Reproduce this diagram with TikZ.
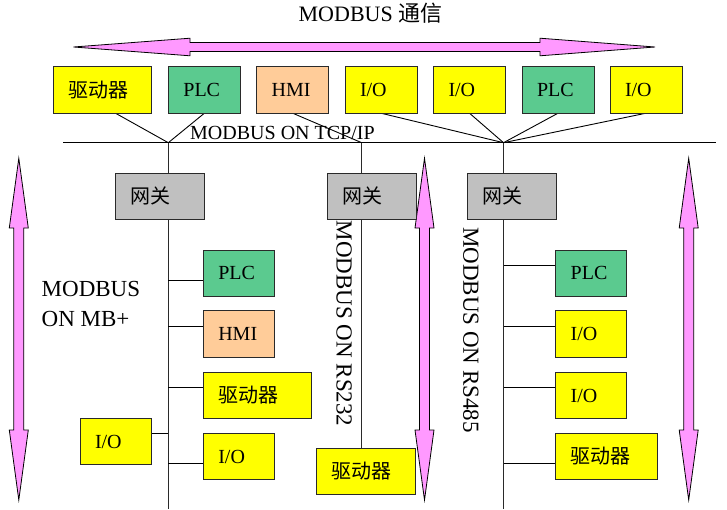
\documentclass[tikz,border=0pt]{standalone}
\usepackage{fontspec}
\setmainfont{Liberation Serif}
\newfontfamily\cjk{Noto Sans CJK SC}
\usetikzlibrary{backgrounds}
\definecolor{yel}{HTML}{FFFF00}
\definecolor{grn}{HTML}{5BCA8F}
\definecolor{org}{HTML}{FFCC99}
\definecolor{gry}{HTML}{C0C0C0}
\definecolor{pnk}{HTML}{FF99FF}
\definecolor{edge}{HTML}{2A2A2A}
\tikzset{
  bx/.style={draw=edge, line width=1pt, minimum height=46.5pt, inner ysep=0pt,
    inner xsep=15pt, outer sep=0pt, align=left, anchor=north west,
    font=\fontsize{20}{24}\selectfont},
  bw/.style={bx, text width=#1},
  link/.style={draw=black, line width=0.9pt},
  trunk/.style={draw=edge, line width=1.1pt},
  arr/.style={fill=pnk, draw=black, line width=0.8pt, line join=miter},
  lbl/.style={inner sep=0pt, font=\fontsize{23}{30}\selectfont},
}
\begin{document}
\begin{tikzpicture}[x=1pt, y=-1pt]
\useasboundingbox (0,0) rectangle (727,509);

% title
\node[inner sep=0pt, anchor=base, font=\fontsize{22}{26}\selectfont] (title) at (370.5,21.5) {MODBUS {\cjk 通信}};

% top arrow
\draw[arr] (73.5,47) -- (190,38.2) -- (190,42.5) -- (540,42.5) -- (540,38.2) -- (655,47)
  -- (540,55.8) -- (540,51.5) -- (190,51.5) -- (190,55.8) -- cycle;

% vertical arrows
\foreach \c in {18.8, 424.5, 688.7} {
  \draw[arr] (\c,158.3) -- (\c+9.5,228) -- (\c+5,228) -- (\c+5,430) -- (\c+9.5,430)
    -- (\c,500) -- (\c-9.5,430) -- (\c-5,430) -- (\c-5,228) -- (\c-9.5,228) -- cycle;
}

% top row
\node[bw=68pt, fill=yel] (t1) at (53.5,66.7) {\cjk 驱动器};
\node[bw=42pt, fill=grn] (t2) at (168.4,66.7) {PLC};
\node[bw=42pt, fill=org] (t3) at (256.7,66.7) {HMI};
\node[bw=42pt, fill=yel] (t4) at (345,66.7) {I/O};
\node[bw=42pt, fill=yel] (t5) at (433.5,66.7) {I/O};
\node[bw=42pt, fill=grn] (t6) at (522,66.7) {PLC};
\node[bw=42pt, fill=yel] (t7) at (610,66.7) {I/O};

% bus label
\node[inner sep=0pt, anchor=base west, font=\fontsize{20}{24}\selectfont] (tcp) at (190,139.3) {MODBUS ON TCP/IP};

% gateways
\node[bw=59pt, fill=gry, minimum height=46pt] (g1) at (115,173.3) {\cjk 网关};
\node[bw=59pt, fill=gry, minimum height=46pt] (g2) at (327,173.3) {\cjk 网关};
\node[bw=59pt, fill=gry, minimum height=46pt] (g3) at (467.3,173.3) {\cjk 网关};

% left column (MB+)
\node[bw=41pt, fill=grn] (plcL) at (203.3,250) {PLC};
\node[bw=41pt, fill=org] (hmiL) at (203.3,310.7) {HMI};
\node[bw=77.7pt, fill=yel] (drvL) at (203.3,372.3) {\cjk 驱动器};
\node[bw=41pt, fill=yel] (ioLa) at (80,418.3) {I/O};
\node[bw=41pt, fill=yel] (ioLb) at (203.3,433.3) {I/O};

% RS232
\node[bw=69.7pt, fill=yel] (d232) at (316,448.3) {\cjk 驱动器};

% right column (RS485)
\node[bw=41pt, fill=grn] (plcR) at (555.7,250) {PLC};
\node[bw=41pt, fill=yel] (ioRa) at (555.7,310.7) {I/O};
\node[bw=41pt, fill=yel] (ioRb) at (555.7,372.3) {I/O};
\node[bw=72pt, fill=yel] (drvR) at (555.7,433.3) {\cjk 驱动器};

% side labels
\node[lbl, align=left, anchor=north west] (mbp) at (41.5,281) {MODBUS\\ON MB+};
\node[lbl, rotate=-90] (rs232) at (344,323.5) {MODBUS ON RS232};
\node[lbl, rotate=-90] (rs485) at (471,330) {MODBUS ON RS485};

% junctions
\coordinate (busL) at (63,142.7);
\coordinate (busR) at (716,142.7);
\coordinate (j1) at (168.3,142.7);
\coordinate (j2) at (361.7,142.7);
\coordinate (j3) at (503.5,142.7);
\coordinate (e1) at (168.3,509);
\coordinate (e3) at (503.5,509);

% link points on boxes
\coordinate (pPL) at ([yshift=-7.5pt]plcL.west);
\coordinate (pHL) at ([yshift=8pt]hmiL.west);
\coordinate (pDL) at ([yshift=8.25pt]drvL.west);
\coordinate (pIa) at ([yshift=8.25pt]ioLa.east);
\coordinate (pIb) at ([yshift=-6.75pt]ioLb.west);
\coordinate (pPR) at ([yshift=8.25pt]plcR.west);
\coordinate (pRa) at ([yshift=8pt]ioRa.west);
\coordinate (pRb) at ([yshift=8.25pt]ioRb.west);
\coordinate (pDR) at ([yshift=-6.75pt]drvR.west);

\begin{scope}[on background layer]
  \fill[white] (0,0) rectangle (727,509);
  \draw[link] (busL) -- (busR);
  \draw[link] ([xshift=13pt]t1.south) -- (j1);
  \draw[link] (t2.south) -- (j1);
  \draw[link] (t3.south) -- (j2);
  \draw[link] (t4.south) -- (j3);
  \draw[link] (t5.south) -- (j3);
  \draw[link] (t6.south) -- (j3);
  \draw[link] (t7.south) -- (j3);
  \draw[trunk] (j1) -- (e1);
  \draw[trunk] (j2) -- (j2 |- d232.north);
  \draw[trunk] (j3) -- (e3);
  \draw[link] (pPL) -- (pPL -| j1);
  \draw[link] (pHL) -- (pHL -| j1);
  \draw[link] (pDL) -- (pDL -| j1);
  \draw[link] (pIa) -- (pIa -| j1);
  \draw[link] (pIb) -- (pIb -| j1);
  \draw[link] (pPR) -- (pPR -| j3);
  \draw[link] (pRa) -- (pRa -| j3);
  \draw[link] (pRb) -- (pRb -| j3);
  \draw[link] (pDR) -- (pDR -| j3);
\end{scope}
\end{tikzpicture}
\end{document}
